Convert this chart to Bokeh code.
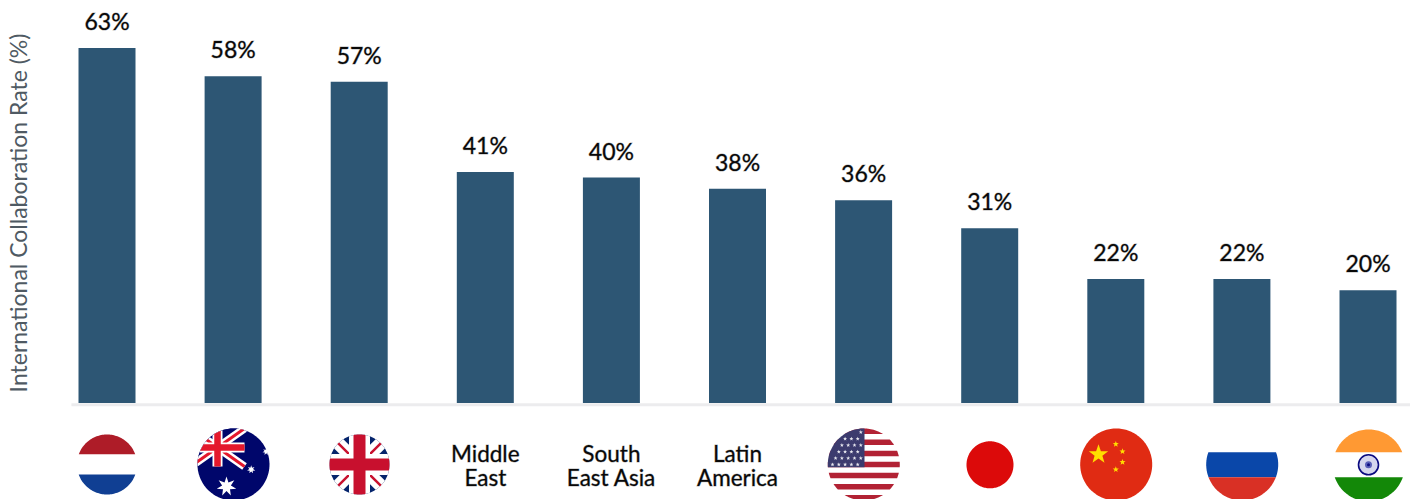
import math
from bokeh.plotting import figure
from bokeh.models import Range1d
from bokeh.core.properties import value
from bokeh.embed import file_html
from bokeh.resources import INLINE

regions = ["Netherlands", "Australia", "United Kingdom", "Middle East", "South East Asia",
           "Latin America", "United States", "Japan", "China", "Russia", "India"]
collaboration_rate = [63, 58, 57, 41, 40, 38, 36, 31, 22, 22, 20]
value_labels = ["63%", "58%", "57%", "41%", "40%", "38%", "36%", "31%", "22%", "22%", "20%"]
axis_title = "International Collaboration Rate (%)"
text_regions = {3: ["Middle", "East"], 4: ["South", "East Asia"], 5: ["Latin", "America"]}

W, H = 1410, 499
FONT = value("Lato")
BAR = "#2D5674"
TEXT_EDGE = "#00000055"

p = figure(width=W, height=H, output_backend="svg", toolbar_location=None,
           x_range=Range1d(-0.8446, 10.337), y_range=Range1d(-17.13, 71.43),
           min_border=0, outline_line_color=None, background_fill_color="white")
p.axis.visible = False
p.grid.visible = False

# Flag artwork is laid out in page pixels on its own pair of ranges.
p.extra_x_ranges["px"] = Range1d(0, W)
p.extra_y_ranges["px"] = Range1d(H, 0)


def circle_poly(cx, cy, r, n=160):
    return [(cx + r * math.cos(2 * math.pi * k / n), cy + r * math.sin(2 * math.pi * k / n)) for k in range(n)]


def clip_convex(subject, clipper):
    """Sutherland-Hodgman clip of a polygon against a convex polygon."""
    out = subject
    m = len(clipper)
    area = sum(clipper[i][0] * clipper[(i + 1) % m][1] - clipper[(i + 1) % m][0] * clipper[i][1] for i in range(m))
    sign = 1 if area > 0 else -1
    for i in range(m):
        ax, ay = clipper[i]
        bx, by = clipper[(i + 1) % m]
        side = lambda q: sign * ((bx - ax) * (q[1] - ay) - (by - ay) * (q[0] - ax))
        src, out = out, []
        for j, cur in enumerate(src):
            prev = src[j - 1]
            sc, sp = side(cur), side(prev)
            if (sc >= 0) != (sp >= 0):
                t = sp / (sp - sc)
                out.append((prev[0] + t * (cur[0] - prev[0]), prev[1] + t * (cur[1] - prev[1])))
            if sc >= 0:
                out.append(cur)
        if not out:
            return []
    return out


def fill(poly, color, clip=None):
    pts = clip_convex(poly, clip) if clip else poly
    if pts:
        p.patch([q[0] for q in pts], [q[1] for q in pts], fill_color=color, line_color=None,
                x_range_name="px", y_range_name="px")


def rect(x0, y0, x1, y1):
    return [(x0, y0), (x1, y0), (x1, y1), (x0, y1)]


def band(x0, y0, x1, y1, w):
    dx, dy = x1 - x0, y1 - y0
    n = math.hypot(dx, dy)
    ox, oy = -dy / n * w / 2, dx / n * w / 2
    return [(x0 + ox, y0 + oy), (x1 + ox, y1 + oy), (x1 - ox, y1 - oy), (x0 - ox, y0 - oy)]


def star(cx, cy, r, color, points=5, inner=0.42, rot=-math.pi / 2):
    pts = []
    for k in range(points * 2):
        rr = r if k % 2 == 0 else r * inner
        a = rot + math.pi * k / points
        pts.append((cx + rr * math.cos(a), cy + rr * math.sin(a)))
    p.patch([q[0] for q in pts], [q[1] for q in pts], fill_color=color, line_color=None,
            x_range_name="px", y_range_name="px")


def union_jack(x0, y0, x1, y1, clip, blue, red, cross_w, cross_r, white_d, red_d):
    cx, cy = (x0 + x1) / 2, (y0 + y1) / 2
    fill(rect(x0, y0, x1, y1), blue, clip)
    fill(band(x0, y0, x1, y1, white_d), "white", clip)
    fill(band(x0, y1, x1, y0, white_d), "white", clip)
    fill(band(x0, y0, x1, y1, red_d), red, clip)
    fill(band(x0, y1, x1, y0, red_d), red, clip)
    fill(rect(cx - cross_w / 2, y0, cx + cross_w / 2, y1), "white", clip)
    fill(rect(x0, cy - cross_w / 2, x1, cy + cross_w / 2), "white", clip)
    fill(rect(cx - cross_r / 2, y0, cx + cross_r / 2, y1), red, clip)
    fill(rect(x0, cy - cross_r / 2, x1, cy + cross_r / 2), red, clip)


# Bars and their value labels
xs = list(range(len(regions)))
p.vbar(x=xs, top=collaboration_rate, bottom=0, width=0.452, fill_color=BAR, line_color=None)
p.text(x=xs, y=collaboration_rate, text=value_labels, text_font=FONT, text_font_size="23px",
       text_color="#0A0A0A", text_outline_color=TEXT_EDGE, text_align="center",
       text_baseline="alphabetic", y_offset=-27)

# Baseline
p.segment(x0=[-0.282], y0=[-0.3], x1=[10.337], y1=[-0.3], line_color="#ECECEE", line_width=3)

# Vertical axis title
p.text(x=[17], y=[212.5], text=[axis_title], text_font=FONT, text_font_size="23px", text_color="#4F5A63",
       text_align="center", text_baseline="middle", angle=math.pi / 2,
       x_range_name="px", y_range_name="px")

# Text labels in place of flags
for i, lines in text_regions.items():
    for line, y in zip(lines, (453, 477)):
        p.text(x=[i], y=[y], text=[line], text_font=FONT, text_font_size="22.5px", text_color="#0A0A0A",
               text_outline_color=TEXT_EDGE, text_align="center", text_baseline="alphabetic",
               x_range_name="default", y_range_name="px")

# Netherlands
c = clip_convex(circle_poly(106.5, 464, 30), rect(78, 430, 135, 498))
fill(rect(70, 430, 140, 453.7), "#AE1C28", c)
fill(rect(70, 474, 140, 498), "#103F93", c)

# Australia
c = circle_poly(233, 464, 36)
fill(rect(190, 425, 275, 505), "#00066B", c)
union_jack(190, 428, 244, 466, c, "#00066B", "#E4182C", 10, 6.5, 8, 3)
star(226, 486, 10, "white", points=7, inner=0.45)
star(250.7, 469, 4.2, "white", points=7, inner=0.45)
star(265.7, 451, 3.8, "white", points=7, inner=0.45)

# United Kingdom
c = circle_poly(359, 464, 30)
union_jack(329, 434, 389, 494, c, "#05246C", "#C8102E", 21, 12, 13, 2.5)

# United States
c = circle_poly(863.3, 464, 36)
for k in range(13):
    if k % 2 == 0:
        fill(rect(820, 428 + 5.54 * k, 905, 428 + 5.54 * (k + 1)), "#B22234", c)
fill(rect(820, 428, 864, 466.8), "#3C3B6E", c)
for row, y in enumerate((431.7, 438.3, 444.7, 451.3, 457.7, 464)):
    for col in range(6):
        x = 860.3 - 6.3 * col - (3.1 if row % 2 else 0)
        if (x - 863.3) ** 2 + (y - 464) ** 2 < 33.5 ** 2:
            star(x, y, 2.1, "#E6E6EE")

# Japan
fill(circle_poly(989.5, 464.3, 23.5), "#DC0A0A")

# China
fill(circle_poly(1115.7, 464, 36), "#E02B13")
star(1098, 454, 10.2, "#FFDE00", inner=0.4)
for sx, sy in ((1115.3, 443.7), (1122, 451), (1122, 461.7), (1115.3, 469)):
    star(sx, sy, 3.2, "#FFDE00", inner=0.42)

# Russia
c = circle_poly(1241.7, 464, 36)
fill(rect(1200, 451.7, 1285, 476.7), "#0A47A9", c)
fill(rect(1200, 476.7, 1285, 505), "#D93025", c)

# India
c = circle_poly(1368.3, 465, 36)
fill(rect(1325, 425, 1410, 451.7), "#FF9933", c)
fill(rect(1325, 476.7, 1410, 505), "#138808", c)
p.scatter(x=[1368], y=[464.3], size=20, marker="circle", fill_color="#D5D6EE", line_color="#0A0A80", line_width=1.6,
          x_range_name="px", y_range_name="px")
p.scatter(x=[1368], y=[464.3], size=7, marker="circle", fill_color="#5A5FB8", line_color=None,
          x_range_name="px", y_range_name="px")
p.scatter(x=[1368], y=[464.3], size=3, marker="circle", fill_color="#0A0A80", line_color=None,
          x_range_name="px", y_range_name="px")

open("out.html", "w").write(file_html(p, INLINE))
